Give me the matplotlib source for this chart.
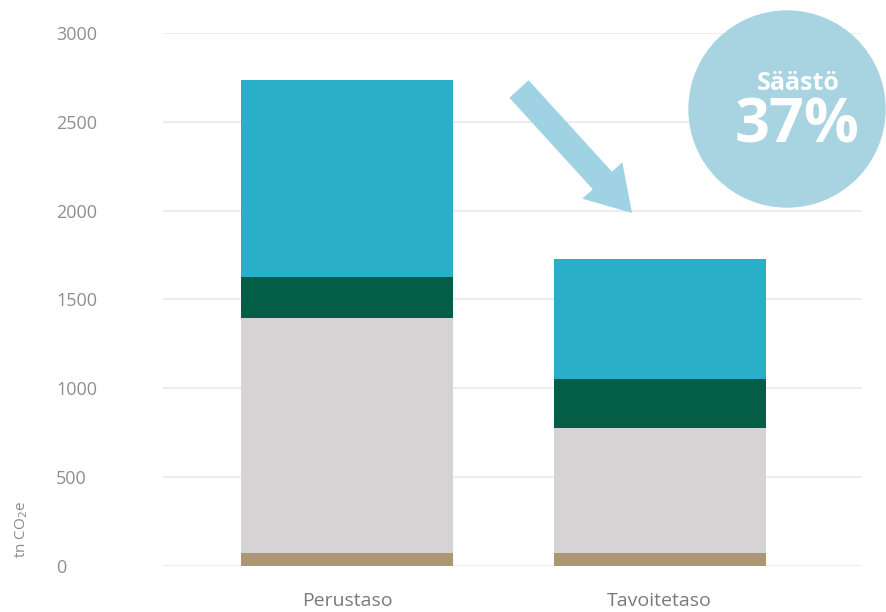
import matplotlib
matplotlib.use('Agg')
from matplotlib import pyplot as plt
from matplotlib.patches import Circle, FancyArrow

plt.rcParams['font.family'] = ['Open Sans', 'DejaVu Sans']

categories = ['Perustaso', 'Tavoitetaso']
tan_vals = [75, 75]
grey_vals = [1320, 700]
green_vals = [230, 275]
blue_vals = [1110, 680]
yticks = [0, 500, 1000, 1500, 2000, 2500, 3000]

colors = {'tan': '#ad9674', 'grey': '#d5d3d3', 'green': '#045e46', 'blue': '#2aafc9'}

fig = plt.figure(figsize=(8.86, 6.12), dpi=100)
ax = fig.add_axes([0.184, 0.0752, 0.789, 0.871])

x = list(range(len(categories)))
w = 0.678
bottom = [0, 0]
for vals, key in [(tan_vals, 'tan'), (grey_vals, 'grey'), (green_vals, 'green'), (blue_vals, 'blue')]:
    ax.bar(x, vals, w, bottom=bottom, color=colors[key], zorder=2)
    bottom = [b + v for b, v in zip(bottom, vals)]

ax.set_xlim(-0.589, 1.648)
ax.set_ylim(0, 3000)
ax.set_yticks(yticks)
ax.set_yticklabels([str(t) for t in yticks])
ax.set_xticks(x)
ax.set_xticklabels(categories)
ax.yaxis.grid(True, color='#ededed', linewidth=1.5, zorder=0)
ax.set_axisbelow(True)
for s in ax.spines.values():
    s.set_visible(False)
ax.tick_params(axis='y', length=0, pad=77, labelsize=13, labelcolor='#8f8f8f')
ax.tick_params(axis='x', length=0, pad=19, labelsize=14, labelcolor='#7a7a7a')
for lab in ax.get_yticklabels():
    lab.set_horizontalalignment('left')

fig.text(0.025, 0.135, 'tn CO$_2$e', rotation=90, ha='center', va='center',
         fontsize=11, color='#8c8c8c')

# overlay in pixel coords for the decorations
ov = fig.add_axes([0, 0, 1, 1], zorder=5)
ov.set_xlim(0, 886)
ov.set_ylim(612, 0)
ov.axis('off')
ov.patch.set_alpha(0)

ov.add_patch(Circle((787, 109), 98, color='#a7d4e0', zorder=1))
ov.text(798, 84, 'Säästö', ha='center', va='center', fontsize=18, fontweight='bold', color='white')
ov.text(797, 127, '37%', ha='center', va='center', fontsize=44, fontweight='bold', color='white')

ov.add_patch(FancyArrow(519, 89, 113, 124, width=26, head_width=54, head_length=44,
                        length_includes_head=True, color='#9fd3e3', linewidth=0))

fig.savefig('out.png', dpi=100)
